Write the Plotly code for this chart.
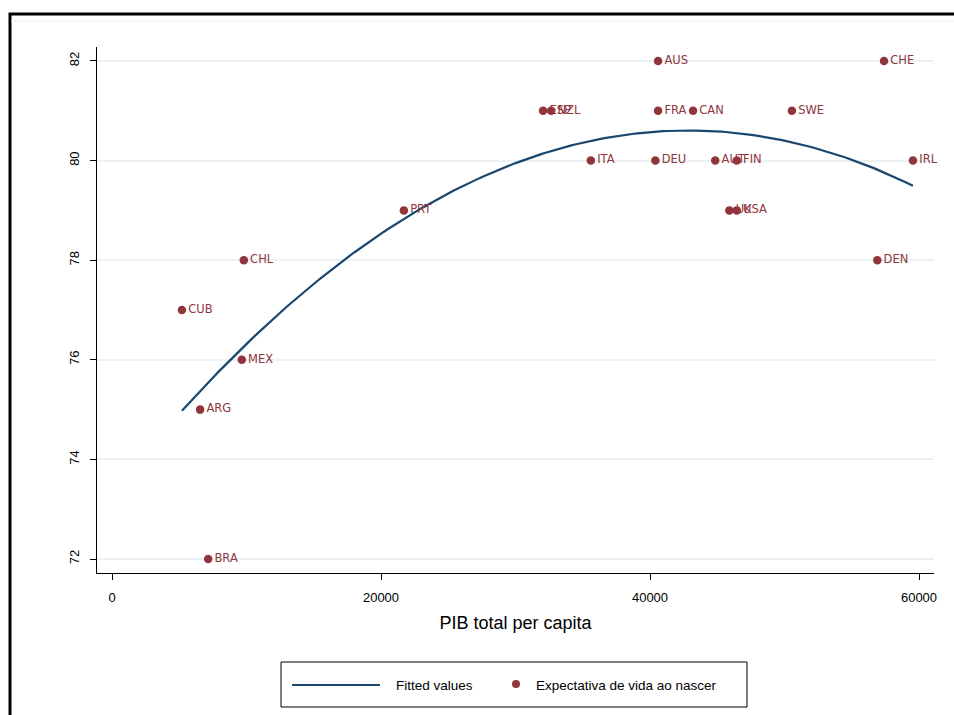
import numpy as np
import plotly.graph_objects as go

# Country data: GDP per capita and life expectancy at birth
countries = ["AUS", "CHE", "ESP", "NZL", "FRA", "CAN", "SWE", "ITA", "DEU", "AUT",
             "FIN", "IRL", "PRT", "UK", "USA", "DEN", "CHL", "CUB", "MEX", "ARG", "BRA"]
pib = [40600, 57400, 32050, 32650, 40600, 43200, 50550, 35600, 40400, 44850,
       46450, 59550, 21700, 45900, 46450, 56900, 9800, 5200, 9650, 6550, 7150]
expectativa = [82, 82, 81, 81, 81, 81, 81, 80, 80, 80,
               80, 80, 79, 79, 79, 78, 78, 77, 76, 75, 72]

x_ticks = [0, 20000, 40000, 60000]
y_ticks = [72, 74, 76, 78, 80, 82]

fit_name = "Fitted values"
scatter_name = "Expectativa de vida ao nascer"

NAVY = "#1a476f"
MAROON = "#90353b"
GRID = "#eaf2f3"
FONT = "Liberation Sans"

# Quadratic fit over the observed range
coef = np.polyfit(pib, expectativa, 2)
xfit = np.linspace(min(pib), max(pib), 200)
yfit = np.polyval(coef, xfit)

fig = go.Figure()
fig.add_trace(go.Scatter(
    x=xfit, y=yfit, mode="lines", name=fit_name,
    line=dict(color=NAVY, width=2.2),
))
fig.add_trace(go.Scatter(
    x=pib, y=expectativa, mode="markers+text", name=scatter_name,
    text=countries, textposition="middle right",
    textfont=dict(family="DejaVu Sans", size=11.5, color=MAROON),
    marker=dict(color=MAROON, size=8.5),
    cliponaxis=False,
))

W, H = 954, 715
L, R, T, B = 97, 20, 47, 142
pw, ph = W - L - R, H - T - B


def px_x(p):
    return (p - L) / pw


def px_y(p):
    return (H - B - p) / ph


# Legend drawn below the plot area: box, line sample, marker sample, labels
leg_y = 685
shapes = [
    # outer frame
    dict(type="rect", xref="paper", yref="paper",
         x0=px_x(10), x1=px_x(970), y0=px_y(730), y1=px_y(14),
         line=dict(color="black", width=3)),
    # inner graph-region rule
    dict(type="line", xref="paper", yref="paper",
         x0=px_x(11), x1=px_x(970), y0=px_y(21), y1=px_y(21),
         line=dict(color=GRID, width=1)),
    # legend box
    dict(type="rect", xref="paper", yref="paper",
         x0=px_x(281), x1=px_x(747), y0=px_y(707), y1=px_y(662),
         line=dict(color="black", width=1), fillcolor="white"),
    dict(type="line", xref="paper", yref="paper",
         x0=px_x(292), x1=px_x(380), y0=px_y(leg_y), y1=px_y(leg_y),
         line=dict(color=NAVY, width=2.2)),
    dict(type="circle", xref="paper", yref="paper",
         x0=px_x(512), x1=px_x(520), y0=px_y(leg_y + 3), y1=px_y(leg_y - 5),
         line=dict(color=MAROON, width=0), fillcolor=MAROON),
]
annotations = [
    dict(xref="paper", yref="paper", x=px_x(394), y=px_y(leg_y), text=fit_name,
         showarrow=False, xanchor="left", yanchor="middle",
         font=dict(family=FONT, size=13.5, color="black")),
    dict(xref="paper", yref="paper", x=px_x(534), y=px_y(leg_y), text=scatter_name,
         showarrow=False, xanchor="left", yanchor="middle",
         font=dict(family=FONT, size=13.5, color="black")),
]

fig.update_layout(
    width=W, height=H,
    margin=dict(l=L, r=R, t=T, b=B),
    paper_bgcolor="white", plot_bgcolor="white",
    showlegend=False,
    xaxis=dict(
        range=[-1115, 61115],
        tickvals=x_ticks, ticktext=[str(v) for v in x_ticks],
        showgrid=False, zeroline=False,
        showline=True, linecolor="black", linewidth=1,
        ticks="outside", ticklen=6, tickcolor="black",
        ticklabelstandoff=6,
        tickfont=dict(family=FONT, size=13, color="black"),
        title=dict(text="PIB total per capita",
                   font=dict(family=FONT, size=18, color="black"),
                   standoff=12),
    ),
    yaxis=dict(
        range=[71.72, 82.28],
        tickvals=y_ticks, ticktext=[str(v) for v in y_ticks],
        showgrid=True, gridcolor=GRID, gridwidth=2, zeroline=False,
        showline=True, linecolor="black", linewidth=1,
        ticks="outside", ticklen=6, tickcolor="black", tickangle=-90,
        ticklabelstandoff=6,
        tickfont=dict(family=FONT, size=13, color="black"),
    ),
    shapes=shapes,
    annotations=annotations,
)

fig.write_html("out.html")
